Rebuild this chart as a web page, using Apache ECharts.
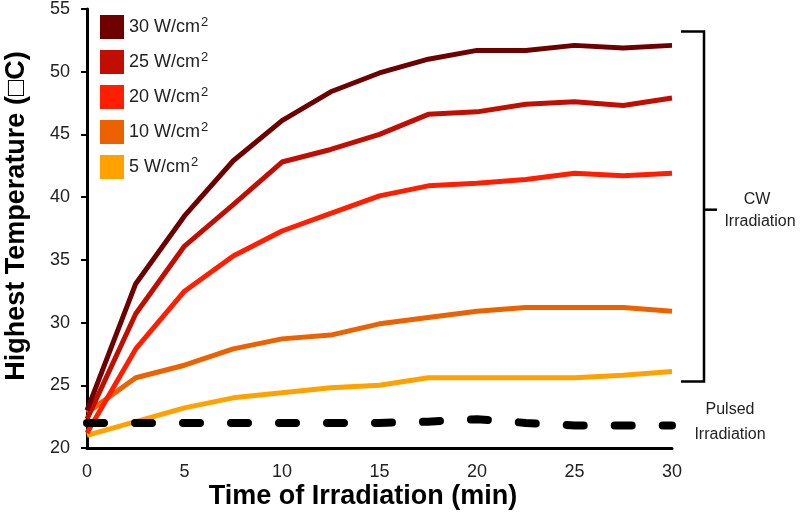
<!DOCTYPE html>
<html>
<head>
<meta charset="utf-8">
<script src="https://cdn.jsdelivr.net/npm/echarts@6/dist/echarts.min.js"></script>
<style>
  html, body { margin: 0; padding: 0; background: #fff; }
  #chart { width: 800px; height: 520px; }
</style>
</head>
<body>
<div id="chart"></div>
<script>
// time in minutes
var times = [0, 2.5, 5, 7.5, 10, 12.5, 15, 17.5, 20, 22.5, 25, 27.5, 30];
var names = ['30 W/cm²', '25 W/cm²', '20 W/cm²', '10 W/cm²', '5 W/cm²'];
var w30 = [23.0, 33.1, 38.5, 42.9, 46.1, 48.4, 49.9, 51.0, 51.7, 51.7, 52.1, 51.9, 52.1];
var w25 = [22.3, 30.7, 36.1, 39.4, 42.8, 43.8, 45.0, 46.6, 46.8, 47.4, 47.6, 47.3, 47.9];
var w20 = [21.2, 27.9, 32.5, 35.3, 37.3, 38.7, 40.1, 40.9, 41.1, 41.4, 41.9, 41.7, 41.9];
var w10 = [22.8, 25.6, 26.6, 27.9, 28.7, 29.0, 29.9, 30.4, 30.9, 31.2, 31.2, 31.2, 30.9];
var w5 = [21.0, 22.1, 23.2, 24.0, 24.4, 24.8, 25.0, 25.6, 25.6, 25.6, 25.6, 25.8, 26.1];
var pulsed = [22.0, 22.0, 22.0, 22.0, 22.0, 22.0, 22.0, 22.1, 22.3, 22.0, 21.8, 21.8, 21.8];
var colors = ['#6e0000', '#c20e00', '#ff1e00', '#ec6100', '#ffa200'];
// bracket ends (temperature) for the CW group
var cwBracket = [53.2, 39.0, 25.3];

var chart = echarts.init(document.getElementById('chart'));
var font = 'Liberation Sans, Arial, sans-serif';

function pairs(arr) {
    var out = [];
    for (var i = 0; i < times.length; i++) out.push([times[i], arr[i]]);
    return out;
}

var allData = [w30, w25, w20, w10, w5];
var series = [];
for (var i = 0; i < names.length; i++) {
    series.push({
        name: names[i],
        type: 'line',
        data: pairs(allData[i]),
        symbol: 'none',
        itemStyle: { color: colors[i] },
        lineStyle: { width: 5, color: colors[i], join: 'round' },
        z: 3 + (names.length - i)
    });
}
series.push({
    name: 'Pulsed',
    type: 'line',
    data: pairs(pulsed),
    symbol: 'none',
    itemStyle: { color: '#000' },
    lineStyle: { width: 8, color: '#000', type: [17, 31], cap: 'round' },
    z: 10
});

var option = {
    animation: false,
    backgroundColor: '#fff',
    textStyle: { fontFamily: font },
    grid: { left: 87, right: 128, top: 8, bottom: 72 },
    legend: {
        data: names,
        orient: 'vertical',
        left: 95,
        top: 10,
        icon: 'rect',
        itemWidth: 24,
        itemHeight: 24,
        itemGap: 11,
        formatter: function(name) {
            return '{t|' + name.replace('²', '}{s|2}');
        },
        textStyle: {
            fontSize: 18,
            color: '#222',
            fontFamily: font,
            rich: {
                t: { fontSize: 18, color: '#222', fontFamily: font, lineHeight: 24 },
                s: { fontSize: 13, color: '#222', fontFamily: font, lineHeight: 24, padding: [0, 0, 9, 1] }
            }
        }
    },
    xAxis: {
        type: 'value',
        min: 0,
        max: 30,
        interval: 5,
        splitLine: { show: false },
        axisTick: { show: false },
        axisLine: { lineStyle: { color: '#000', width: 3 } },
        axisLabel: { fontSize: 18, color: '#222', margin: 15 }
    },
    yAxis: {
        type: 'value',
        min: 20,
        max: 55,
        interval: 5,
        splitLine: { show: false },
        axisTick: { show: true, inside: false, length: 6, lineStyle: { color: '#000', width: 2 } },
        axisLine: { show: true, lineStyle: { color: '#000', width: 3 } },
        axisLabel: { fontSize: 18, color: '#222', margin: 17 }
    },
    series: series
};
chart.setOption(option);

// axis titles and bracket annotation
var topPt = chart.convertToPixel({ xAxisIndex: 0, yAxisIndex: 0 }, [30, cwBracket[0]]);
var midPt = chart.convertToPixel({ xAxisIndex: 0, yAxisIndex: 0 }, [30, cwBracket[1]]);
var botPt = chart.convertToPixel({ xAxisIndex: 0, yAxisIndex: 0 }, [30, cwBracket[2]]);
var bx = topPt[0] + 32;
chart.setOption({
    graphic: [
        {
            type: 'text',
            x: 17, y: 216,
            rotation: Math.PI / 2,
            style: {
                text: 'Highest Temperature (□C)',
                font: 'bold 27px ' + font,
                fill: '#000',
                align: 'center',
                verticalAlign: 'middle'
            }
        },
        {
            type: 'text',
            x: 363, y: 497,
            style: {
                text: 'Time of Irradiation (min)',
                font: 'bold 27px ' + font,
                fill: '#000',
                align: 'center',
                verticalAlign: 'middle'
            }
        },
        {
            type: 'polyline',
            shape: { points: [[bx - 23, topPt[1]], [bx, topPt[1]], [bx, botPt[1]], [bx - 23, botPt[1]]] },
            style: { stroke: '#000', lineWidth: 2.5, fill: null }
        },
        {
            type: 'line',
            shape: { x1: bx, y1: midPt[1], x2: bx + 13, y2: midPt[1] },
            style: { stroke: '#000', lineWidth: 2.5 }
        },
        {
            type: 'text',
            x: 757, y: 200,
            style: { text: 'CW', font: '16px ' + font, fill: '#222', align: 'center', verticalAlign: 'middle' }
        },
        {
            type: 'text',
            x: 760, y: 222,
            style: { text: 'Irradiation', font: '16px ' + font, fill: '#222', align: 'center', verticalAlign: 'middle' }
        },
        {
            type: 'text',
            x: 730, y: 410,
            style: { text: 'Pulsed', font: '16px ' + font, fill: '#222', align: 'center', verticalAlign: 'middle' }
        },
        {
            type: 'text',
            x: 730, y: 435,
            style: { text: 'Irradiation', font: '16px ' + font, fill: '#222', align: 'center', verticalAlign: 'middle' }
        }
    ]
});

window.addEventListener('resize', function() {
    chart.resize();
});
</script>
</body>
</html>
